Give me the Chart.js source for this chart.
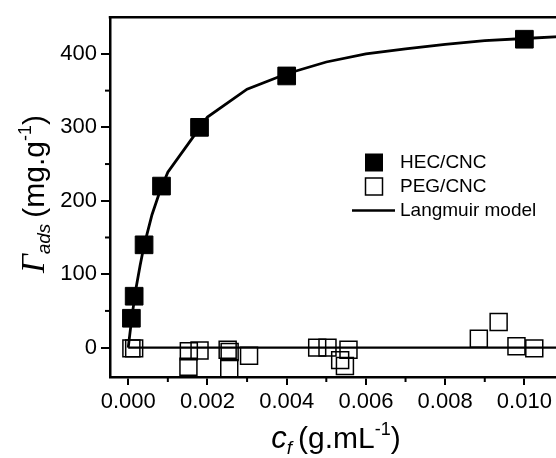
<!DOCTYPE html>
<html>
<head>
<meta charset="utf-8">
<script src="https://cdn.jsdelivr.net/npm/chart.js@4.4.1/dist/chart.umd.min.js"></script>
<style>
  html, body { margin: 0; padding: 0; background: #fff; overflow: hidden; width: 556px; height: 458px; }
  #wrap { width: 580px; height: 458px; }
</style>
</head>
<body>
<div id="wrap"><canvas id="chart" width="580" height="458"></canvas></div>
<script>
// HEC/CNC adsorption (filled squares)
const hecX = [0.00008, 0.00015, 0.0004, 0.00084, 0.0018, 0.004, 0.010];
const hecY = [40, 70, 140, 220, 300, 370, 420];

// PEG/CNC adsorption (open squares)
const pegX = [0.00008, 0.00015, 0.00152, 0.00153, 0.0018, 0.00251, 0.00256, 0.00255, 0.00305,
              0.00477, 0.00503, 0.00535, 0.00547, 0.00556, 0.00885, 0.00935, 0.0098, 0.01025];
const pegY = [-1, -1, -26, -5, -4, -3, -6, -28, -11,
              0, 0, -17, -25, -3, 12, 35, 2, -1];

// Langmuir model curve
const modelX = [0, 0.0001, 0.0002, 0.0003, 0.0004, 0.0006, 0.0008, 0.001, 0.002, 0.003,
                0.004, 0.005, 0.006, 0.007, 0.008, 0.009, 0.010, 0.011];
const modelY = [0, 45, 82, 112, 139, 181, 213, 239, 314, 352,
                373, 389, 400, 407, 413, 418, 421, 424];

// zero baseline for PEG/CNC
const baseX = [0, 0.011];
const baseY = [0, 0];

// axis ticks
const xTicks = [0, 0.002, 0.004, 0.006, 0.008, 0.010];
const xMinor = [0.001, 0.003, 0.005, 0.007, 0.009];
const yTicks = [0, 100, 200, 300, 400];
const yMinor = [50, 150, 250, 350];

const toPts = (xs, ys) => xs.map((x, i) => ({ x: x, y: ys[i] }));

Chart.defaults.font.family = '"Liberation Sans", Arial, sans-serif';
Chart.defaults.color = '#000';

// draw a run of text pieces with different fonts, centred on x
function drawRich(ctx, parts, x, y) {
    let total = 0;
    parts.forEach(p => {
        ctx.font = p.font;
        p.w = ctx.measureText(p.t).width;
        total += p.w + (p.gap || 0);
    });
    let cx = x - total / 2;
    parts.forEach(p => {
        ctx.font = p.font;
        ctx.fillText(p.t, cx, y + (p.dy || 0));
        cx += p.w + (p.gap || 0);
    });
}

const decorPlugin = {
    id: 'decor',
    afterDraw(chart) {
        const ctx = chart.ctx;
        const area = chart.chartArea;
        const xs = chart.scales.x;
        const ys = chart.scales.y;
        ctx.save();
        ctx.strokeStyle = '#000';
        ctx.fillStyle = '#000';

        // top frame line
        ctx.lineWidth = 2.5;
        ctx.beginPath();
        ctx.moveTo(area.left - 1.25, area.top);
        ctx.lineTo(area.right, area.top);
        ctx.stroke();

        // minor ticks
        ctx.lineWidth = 2;
        xMinor.forEach(v => {
            const px = xs.getPixelForValue(v);
            ctx.beginPath();
            ctx.moveTo(px, area.bottom);
            ctx.lineTo(px, area.bottom + 5);
            ctx.stroke();
        });
        yMinor.forEach(v => {
            const py = ys.getPixelForValue(v);
            ctx.beginPath();
            ctx.moveTo(area.left, py);
            ctx.lineTo(area.left - 5, py);
            ctx.stroke();
        });

        // axis titles
        ctx.textBaseline = 'alphabetic';
        ctx.textAlign = 'left';
        drawRich(ctx, [
            { t: 'c', font: 'italic 31px "Liberation Sans", Arial' },
            { t: 'f', font: 'italic 19px "Liberation Sans", Arial', dy: 6, gap: 6 },
            { t: '(g.mL', font: '30px "Liberation Sans", Arial' },
            { t: '-1', font: '18px "Liberation Sans", Arial', dy: -13 },
            { t: ')', font: '30px "Liberation Sans", Arial' }
        ], 336, 448);

        ctx.save();
        ctx.translate(44, 194);
        ctx.rotate(-Math.PI / 2);
        drawRich(ctx, [
            { t: '\u0393', font: 'italic 33px "Liberation Serif", "Times New Roman", serif' },
            { t: 'ads', font: 'italic 19px "Liberation Sans", Arial', dy: 6, gap: 6 },
            { t: '(mg.g', font: '30px "Liberation Sans", Arial' },
            { t: '-1', font: '18px "Liberation Sans", Arial', dy: -13 },
            { t: ')', font: '30px "Liberation Sans", Arial' }
        ], 0, 0);
        ctx.restore();

        // legend
        const lx = 374, tx = 400;
        const rows = [162.5, 186.5, 210.5];
        const ds = chart.data.datasets;
        ctx.font = '19px "Liberation Sans", Arial';
        ctx.textBaseline = 'middle';
        ctx.fillRect(lx - 9, rows[0] - 9, 18, 18);
        ctx.fillText(ds[0].label, tx, rows[0]);
        ctx.lineWidth = 1.5;
        ctx.strokeRect(lx - 8.5, rows[1] - 8.5, 17, 17);
        ctx.fillText(ds[1].label, tx, rows[1]);
        ctx.lineWidth = 2.5;
        ctx.beginPath();
        ctx.moveTo(352, rows[2]);
        ctx.lineTo(395, rows[2]);
        ctx.stroke();
        ctx.fillText(ds[2].label, tx, rows[2]);

        ctx.restore();
    }
};

new Chart(document.getElementById('chart'), {
    type: 'scatter',
    data: {
        datasets: [
            {
                label: 'HEC/CNC',
                data: toPts(hecX, hecY),
                pointStyle: 'rect',
                pointRadius: 12.5,
                pointBackgroundColor: '#000',
                pointBorderColor: '#000',
                pointBorderWidth: 1,
                order: 0
            },
            {
                label: 'PEG/CNC',
                data: toPts(pegX, pegY),
                pointStyle: 'rect',
                pointRadius: 12,
                pointBackgroundColor: 'rgba(0,0,0,0)',
                pointBorderColor: '#000',
                pointBorderWidth: 1.5,
                order: 0
            },
            {
                label: 'Langmuir model',
                type: 'line',
                data: toPts(modelX, modelY),
                borderColor: '#000',
                borderWidth: 2.8,
                pointRadius: 0,
                tension: 0,
                fill: false,
                order: 1
            },
            {
                label: 'baseline',
                type: 'line',
                data: toPts(baseX, baseY),
                borderColor: '#000',
                borderWidth: 2.2,
                pointRadius: 0,
                fill: false,
                order: 1
            }
        ]
    },
    options: {
        responsive: false,
        animation: false,
        devicePixelRatio: 1,
        layout: { padding: { top: 10, right: 16, left: 0, bottom: 0 } },
        plugins: {
            legend: { display: false },
            tooltip: { enabled: false }
        },
        scales: {
            x: {
                type: 'linear',
                min: -0.00046,
                max: 0.011,
                afterBuildTicks: s => { s.ticks = xTicks.map(v => ({ value: v })); },
                afterFit: s => { s.height = 81; },
                grid: { drawOnChartArea: false, drawTicks: true, tickLength: 8, color: '#000', lineWidth: 2 },
                border: { display: true, color: '#000', width: 2.5 },
                ticks: {
                    font: { size: 22 },
                    color: '#000',
                    padding: 4,
                    maxRotation: 0,
                    callback: v => v.toFixed(3)
                }
            },
            y: {
                type: 'linear',
                min: -40,
                max: 450,
                afterBuildTicks: s => { s.ticks = yTicks.map(v => ({ value: v })); },
                afterFit: s => { s.width = 110; },
                grid: { drawOnChartArea: false, drawTicks: true, tickLength: 9, color: '#000', lineWidth: 2 },
                border: { display: true, color: '#000', width: 2.5 },
                ticks: {
                    font: { size: 22 },
                    color: '#000',
                    padding: 4,
                    callback: v => String(v)
                }
            }
        }
    },
    plugins: [decorPlugin]
});
</script>
</body>
</html>
